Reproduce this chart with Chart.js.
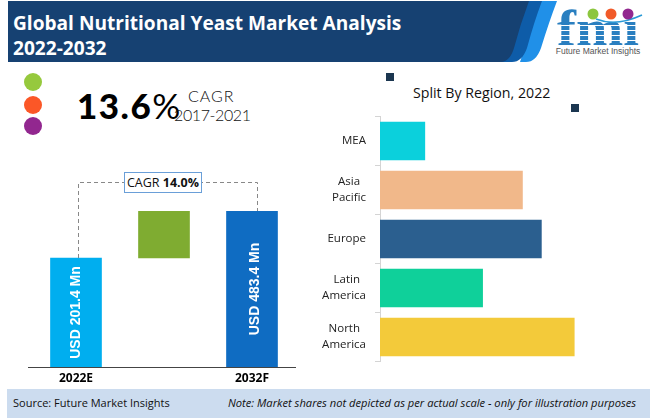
<!DOCTYPE html>
<html>
<head>
<meta charset="utf-8">
<script src="https://cdn.jsdelivr.net/npm/chart.js@4"></script>
<style>
  html, body { margin: 0; padding: 0; background: #fff; }
  #page { position: relative; width: 650px; height: 418px; overflow: hidden; font-family: "Open Sans", sans-serif; color: #111; }
  #page > * { position: absolute; }
  .txt { white-space: nowrap; line-height: 1; }
  .dot { width: 18px; height: 18px; border-radius: 50%; }
  .sq { width: 8px; height: 8px; background: #1b3650; }
  canvas { position: absolute; left: 0; top: 0; }
</style>
</head>
<body>
<div id="page">
  <svg style="left:0;top:0" width="650" height="64">
    <path d="M540 1 L557 1 Q549 22 541 48 Q536 62 526 62 L520 62 Z" fill="#2090e8"/>
    <path d="M525 1 L542 1 Q534 22 527 48 Q522 62 512 62 L500 62 Z" fill="#0e5ca8"/>
    <path d="M8 1 L529 1 Q520 25 514 48 Q510 62 500 62 L8 62 Z" fill="#164172"/>
    <!-- logo -->
    <text x="598" y="45" text-anchor="middle" font-family="Liberation Serif" font-weight="bold" font-size="50" fill="#2a7fc0" textLength="82" lengthAdjust="spacingAndGlyphs">fmi</text>
    <g stroke="#fff" stroke-width="1"><line x1="555" x2="642" y1="25.5" y2="25.5"/><line x1="555" x2="642" y1="30.5" y2="30.5"/><line x1="555" x2="642" y1="35.5" y2="35.5"/><line x1="555" x2="642" y1="40.5" y2="40.5"/></g>
    <path d="M596 18 Q616 27 644 14 L644 8 L596 8 Z" fill="#fff"/>
    <path d="M596 19 Q616 27 642 15" fill="none" stroke="#2a9ad6" stroke-width="1.6"/>
    <circle cx="593" cy="14" r="5.5" fill="#8cc63f"/><circle cx="611" cy="14" r="5.5" fill="#f15a29"/><circle cx="628" cy="14" r="5.5" fill="#92278f"/>
    <text x="598" y="54" text-anchor="middle" font-family="Liberation Sans" font-size="8.5" fill="#555">Future Market Insights</text>
  </svg>
  <div class="txt" style="left:13px;top:14px;font-weight:700;font-size:19.1px;color:#fff">Global Nutritional Yeast Market Analysis</div>
  <div class="txt" style="left:13px;top:39px;font-weight:700;font-size:19.1px;color:#fff">2022-2032</div>

  <div class="dot" style="left:24px;top:73px;background:#96c93d"></div>
  <div class="dot" style="left:24px;top:96px;background:#fb5727"></div>
  <div class="dot" style="left:24px;top:117px;background:#92278f"></div>
  <div class="txt" style="left:77px;top:88px;font-family:Lato;font-weight:900;font-size:35px;letter-spacing:1.5px;color:#000">13.6<span style="font-weight:400;letter-spacing:0">%</span></div>
  <div class="txt" style="left:188px;top:88px;font-family:Lato;font-weight:300;font-size:16px;letter-spacing:1px">CAGR</div>
  <div class="txt" style="left:174px;top:107px;font-family:Lato;font-weight:300;font-size:16px;letter-spacing:-0.4px">2017-2021</div>

  <div class="sq" style="left:386px;top:73px"></div>
  <div class="sq" style="left:571px;top:104px"></div>
  <div class="txt" style="left:413px;top:86px;font-size:14.2px">Split By Region, 2022</div>

  <div style="left:0;top:0;width:650px;height:418px"><canvas id="grafico_mercado" width="650" height="418"></canvas></div>
  <div style="left:0;top:0;width:650px;height:418px"><canvas id="grafico_region" width="650" height="418"></canvas></div>

  <div class="txt" style="left:124px;top:172px;width:76px;height:19px;border:1px solid #6a9fd8;background:#fff;font-size:12.5px;line-height:19px;text-align:center">CAGR&nbsp;<b>14.0%</b></div>

  <div style="left:7px;top:389px;width:643px;height:29px;background:#ccdcef"></div>
  <div class="txt" style="left:13px;top:397px;font-size:11px">Source: Future Market Insights</div>
  <div class="txt" style="left:228px;top:397px;font-size:11.15px;font-style:italic">Note: Market shares not depicted as per actual scale - only for illustration purposes</div>
</div>
<script>
Chart.defaults.animation = false;
Chart.defaults.responsive = false;

// Barras de mercado (alturas leídas de la imagen, no están a escala real)
const anios = ['2022E', '', '2032F'];
const barraBase = [[0, 109], [109, 156], [0, 156]];
const coloresMercado = ['#00aeef', '#7fac31', '#0f6cc2'];
const etiquetasMercado = ['USD 201.4 Mn', '', 'USD 483.4 Mn'];

// Barras por región (longitudes relativas)
const regiones = ['MEA', ['Asia  ', 'Pacific'], 'Europe', ['Latin  ', 'America'], ['North  ', 'America']];
const valoresRegion = [45, 143, 162, 103, 195];
const coloresRegion = ['#0bd0dc', '#f1b88a', '#2b5f8f', '#0fd09a', '#f3ca3a'];

const pluginMercado = {
	id: 'mercado',
	afterDatasetsDraw(chart) {
		const { ctx, scales } = chart;
		const barras = chart.getDatasetMeta(0).data;
		ctx.save();

		// Eje inferior un poco más largo que el área
		ctx.strokeStyle = '#444';
		ctx.lineWidth = 1;
		ctx.beginPath();
		ctx.moveTo(28, scales.y.bottom + 0.5);
		ctx.lineTo(296, scales.y.bottom + 0.5);
		ctx.stroke();

		// Conector punteado hacia la caja CAGR
		ctx.strokeStyle = '#888';
		ctx.setLineDash([4, 3]);
		ctx.beginPath();
		ctx.moveTo(78.5, barras[0].y);
		ctx.lineTo(78.5, 182.5);
		ctx.lineTo(257.5, 182.5);
		ctx.lineTo(257.5, barras[2].y);
		ctx.stroke();
		ctx.setLineDash([]);

		// Texto vertical dentro de las barras
		ctx.fillStyle = '#fff';
		ctx.font = 'bold 14px "Liberation Sans"';
		ctx.textAlign = 'center';
		ctx.textBaseline = 'middle';
		etiquetasMercado.forEach((txt, i) => {
			if (!txt) return;
			const b = barras[i];
			ctx.save();
			ctx.translate(b.x + (i === 2 ? 3 : 0), (b.y + b.base) / 2);
			ctx.rotate(-Math.PI / 2);
			ctx.fillText(txt, 0, 0);
			ctx.restore();
		});
		ctx.restore();
	},
};

new Chart(document.getElementById('grafico_mercado'), {
	type: 'bar',
	data: {
		labels: anios,
		datasets: [{ data: barraBase, backgroundColor: coloresMercado, barThickness: 51 }],
	},
	options: {
		layout: { padding: { left: 32, right: 354, top: 211, bottom: 31 } },
		plugins: { legend: { display: false }, tooltip: { enabled: false } },
		scales: {
			x: {
				afterFit(scale) { scale.height = 20; },
				grid: { display: false, drawTicks: false },
				border: { display: false },
				ticks: { color: '#000', padding: 4, maxRotation: 0, font: { family: 'Open Sans', weight: 'bold', size: 12 } },
			},
			y: { display: false, min: 0, max: 156 },
		},
	},
	plugins: [pluginMercado],
});

new Chart(document.getElementById('grafico_region'), {
	type: 'bar',
	data: {
		labels: regiones,
		datasets: [{ data: valoresRegion, backgroundColor: coloresRegion, barThickness: 38 }],
	},
	options: {
		indexAxis: 'y',
		layout: { padding: { left: 300, right: 10, top: 116.5, bottom: 56.5 } },
		plugins: { legend: { display: false }, tooltip: { enabled: false } },
		scales: {
			x: { display: false, min: 0, max: 261 },
			y: {
				afterFit(scale) { scale.width = 80; },
				grid: { display: true, drawOnChartArea: false, offset: true, color: '#d4d4d4', tickLength: 5 },
				border: { display: true, color: '#d4d4d4', width: 1 },
				ticks: { color: '#222', padding: 9, font: { family: 'Open Sans', size: 11.5, lineHeight: 1.4 } },
			},
		},
	},
});
</script>
</body>
</html>
